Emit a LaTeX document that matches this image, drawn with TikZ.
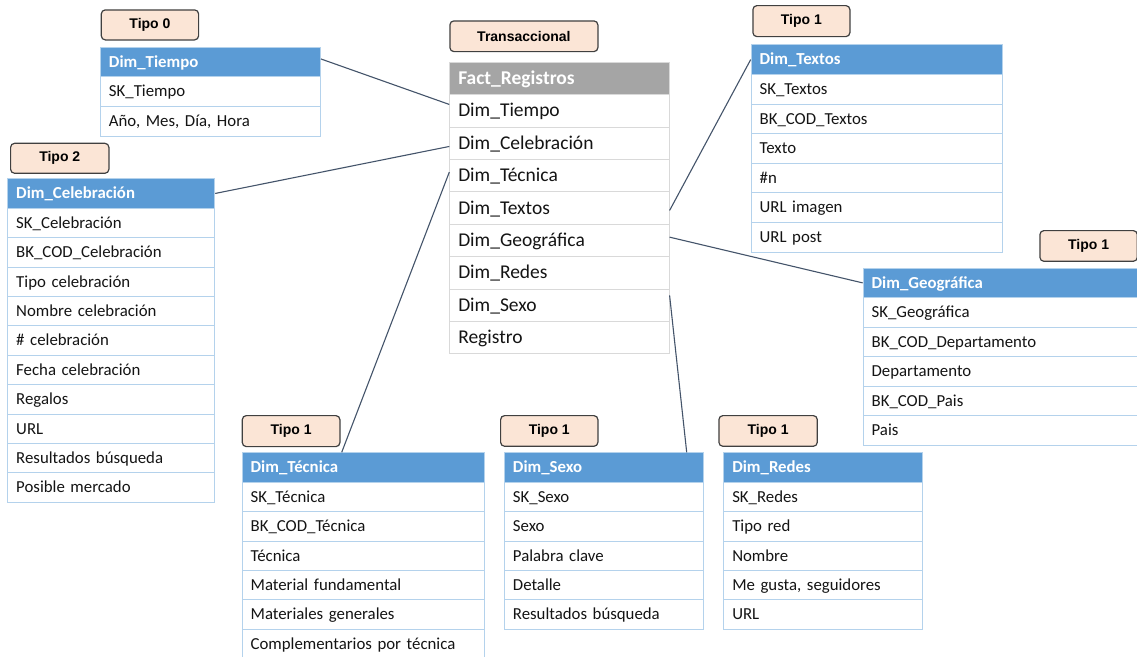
\documentclass[tikz,border=0pt]{standalone}
\usepackage{fontspec}
\newfontfamily\carl{Carlito}
\newfontfamily\arl{Liberation Sans}
\definecolor{hdrblue}{RGB}{91,155,213}
\definecolor{bordblue}{RGB}{180,210,236}
\definecolor{factgray}{RGB}{165,165,165}
\definecolor{bordgray}{RGB}{217,217,217}
\definecolor{peach}{RGB}{251,229,214}
\definecolor{labgray}{RGB}{64,64,64}
\definecolor{connc}{RGB}{68,84,106}
\definecolor{txt}{RGB}{20,20,20}
\tikzset{
  dimhead/.style={draw=bordblue, fill=hdrblue, text=white, line width=0.9pt,
    font=\carl\bfseries\fontsize{16.8}{20}\selectfont, align=left,
    inner xsep=8.5pt, inner ysep=0pt, text height=13.4pt, text depth=2.6pt},
  dimrow/.style={draw=bordblue, fill=white, text=txt, line width=0.9pt,
    font=\carl\fontsize{16.8}{20}\selectfont, align=left,
    inner xsep=8.5pt, inner ysep=0pt, text height=13.4pt, text depth=2.6pt},
  facthead/.style={draw=bordgray, fill=factgray, text=white, line width=0.9pt,
    font=\carl\bfseries\fontsize{19.5}{23}\selectfont, align=left,
    inner xsep=8.5pt, inner ysep=0pt, text height=15.5pt, text depth=3.1pt},
  factrow/.style={draw=bordgray, fill=white, text=txt, line width=0.9pt,
    font=\carl\fontsize{19.5}{23}\selectfont, align=left,
    inner xsep=8.5pt, inner ysep=0pt, text height=15.5pt, text depth=3.1pt},
  tipo/.style={draw=labgray, fill=peach, rounded corners=4pt, line width=1.2pt,
    font=\arl\bfseries\fontsize{14}{16}\selectfont, text=black,
    anchor=north west, inner sep=0pt},
  conn/.style={draw=connc, line width=1.1pt}
}
\newcommand\dtab[8]{%
  \pgfmathsetmacro\tw{#4-17}%
  \node[#8head, text width=\tw pt, minimum height=#5pt, anchor=north west] (#1) at (#2,#3) {#6};
  \foreach \r [count=\i] in {#7} {
    \node[#8row, text width=\tw pt, minimum height=#5pt, anchor=north west] (#1-\i) at ({#2},{#3+\i*#5}) {\r};
  }%
}
\begin{document}
\begin{tikzpicture}[x=1pt,y=-1pt]
\useasboundingbox (0,0) rectangle (1137,656);
\clip (0,0) rectangle (1137,656);
\fill[white] (0,0) rectangle (1137,656);

% labels
\node[tipo, minimum width=97.3pt, minimum height=30pt] (l0) at (100.7,9.3) {Tipo 0};
\node[tipo, minimum width=148pt, minimum height=30.7pt] (lt) at (449.3,20.3) {Transaccional};
\node[tipo, minimum width=98.3pt, minimum height=30pt] (l2) at (10,142.7) {Tipo 2};
\node[tipo, minimum width=97pt, minimum height=31pt] (l1a) at (752.3,5) {Tipo 1};
\node[tipo, minimum width=97.4pt, minimum height=30.7pt] (l1b) at (1039.3,230) {Tipo 1};
\node[tipo, minimum width=97.6pt, minimum height=31pt] (l1c) at (241.7,415) {Tipo 1};
\node[tipo, minimum width=97.3pt, minimum height=30.7pt] (l1d) at (500,415) {Tipo 1};
\node[tipo, minimum width=98.4pt, minimum height=30.7pt] (l1e) at (718.3,415) {Tipo 1};

% tables
\dtab{DT}{100}{46.7}{220}{29.6}{Dim\_Tiempo}{SK\_Tiempo,{Año, Mes, Día, Hora}}{dim}
\dtab{F}{449.3}{61.7}{219.4}{32.4}{Fact\_Registros}{Dim\_Tiempo,Dim\_Celebración,Dim\_Técnica,Dim\_Textos,Dim\_Geográfica,Dim\_Redes,Dim\_Sexo,Registro}{fact}
\dtab{DC}{7.3}{178.3}{207}{29.4}{Dim\_Celebración}{SK\_Celebración,BK\_COD\_Celebración,Tipo celebración,Nombre celebración,\# celebración,Fecha celebración,Regalos,URL,Resultados búsqueda,Posible mercado}{dim}
\dtab{DTx}{750.7}{44.3}{251.5}{29.6}{Dim\_Textos}{SK\_Textos,BK\_COD\_Textos,Texto,\#n,URL imagen,URL post}{dim}
\dtab{DG}{862.7}{267.7}{300}{29.5}{Dim\_Geográfica}{SK\_Geográfica,BK\_COD\_Departamento,Departamento,BK\_COD\_Pais,Pais}{dim}
\dtab{DTec}{241.7}{452.3}{242.5}{29.4}{Dim\_Técnica}{SK\_Técnica,BK\_COD\_Técnica,Técnica,Material fundamental,Materiales generales,Complementarios por técnica}{dim}
\dtab{DS}{504}{452.3}{199.3}{29.4}{Dim\_Sexo}{SK\_Sexo,Sexo,Palabra clave,Detalle,Resultados búsqueda}{dim}
\dtab{DR}{723.3}{452.3}{198.4}{29.4}{Dim\_Redes}{SK\_Redes,Tipo red,Nombre,{Me gusta, seguidores},URL}{dim}

% connectors
\draw[conn] ([yshift=3pt]DT.east) -- ([yshift=6.3pt]F-1.west);
\draw[conn] (DC.east) -- ([yshift=-3.3pt]F-2.west);
\draw[conn] ([xshift=100pt]DTec.north west) -- ([yshift=3.4pt]F-3.west);
\draw[conn] ([yshift=-2.5pt]F-4.east) -- (DTx.west);
\draw[conn] ([yshift=3.2pt]F-5.east) -- (DG.west);
\draw[conn] ([yshift=9.7pt]F-7.east) -- ([xshift=182.7pt]DS.north west);
\end{tikzpicture}
\end{document}
